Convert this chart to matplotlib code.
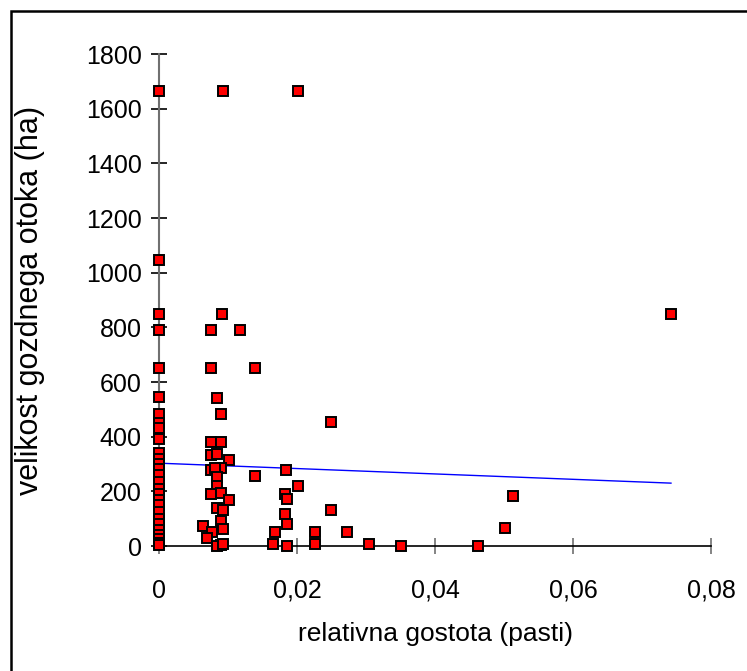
import matplotlib
matplotlib.use("Agg")
import matplotlib.pyplot as plt
from matplotlib.patches import Rectangle
from matplotlib.ticker import FuncFormatter

plt.rcParams['font.family'] = ['Liberation Sans', 'DejaVu Sans']

# relativna gostota (pasti) vs. velikost gozdnega otoka (ha)
gostota_0 = [0.0] * 28
otok_0 = [1663, 1045, 849, 790, 650, 545, 483, 450, 430, 390, 340, 320, 300,
          280, 260, 235, 210, 190, 170, 150, 125, 100, 80, 60, 40, 25, 10, 3]

gostota = [0.00923, 0.0202, 0.00918, 0.0075, 0.01179, 0.0075, 0.01387,
           0.00836, 0.00894, 0.0249, 0.0075, 0.00894, 0.0075, 0.00845,
           0.0101, 0.0075, 0.00894, 0.0081, 0.0184, 0.01387, 0.00836,
           0.0202, 0.00836, 0.0075, 0.00894, 0.0182, 0.0185, 0.0101,
           0.00836, 0.00923, 0.0249, 0.0182, 0.00894, 0.0185, 0.00633,
           0.00923, 0.00768, 0.01677, 0.02256, 0.0069, 0.00894, 0.00836,
           0.00932, 0.01648, 0.0185, 0.02256, 0.0272, 0.0304, 0.035,
           0.0463, 0.0501, 0.0513, 0.0742]
otok = [1663, 1663, 848, 789, 789, 650, 650, 540, 482, 453, 379, 379, 332,
        337, 314, 278, 284, 284, 278, 256, 254, 220, 221, 190, 195, 190,
        173, 168, 139, 132, 132, 118, 93, 80, 73, 61, 52, 50, 50, 29, 4, 0,
        6, 6, 0, 6, 51, 7, 0, 0, 66, 183, 848]

# linearni trend
trend_x = [0.0, 0.0742]
trend_y = [303, 230]

x_ticks = [0, 0.02, 0.04, 0.06, 0.08]
y_ticks = [0, 200, 400, 600, 800, 1000, 1200, 1400, 1600, 1800]

W, H = 747, 671
fig = plt.figure(figsize=(W / 100, H / 100), dpi=100)
fig.patches.append(Rectangle((11 / W, -0.1), 1.2, 1 - 11 / H + 0.1,
                             transform=fig.transFigure, fill=False,
                             edgecolor='black', linewidth=1.8))

ax = fig.add_axes([159 / W, 1 - 546 / H, (711 - 159) / W, (546 - 54) / H])

ax.plot(trend_x, trend_y, color='#0000ff', linewidth=1.0, zorder=2)
ax.plot(gostota_0 + gostota, otok_0 + otok, linestyle='none', marker='s',
        markersize=7.6, markerfacecolor='#ff0000', markeredgecolor='black',
        markeredgewidth=1.4, clip_on=False, zorder=3)

ax.set_xlim(0, 0.08)
ax.set_ylim(0, 1800)
ax.set_xticks(x_ticks)
ax.set_yticks(y_ticks)
ax.xaxis.set_major_formatter(FuncFormatter(
    lambda v, p: '0' if v == 0 else ('%.2f' % v).replace('.', ',')))

for s in ['top', 'right']:
    ax.spines[s].set_visible(False)
ax.spines['left'].set_color('#707070')
ax.spines['left'].set_linewidth(1.5)
ax.spines['bottom'].set_color('black')
ax.spines['bottom'].set_linewidth(1.2)

ax.tick_params(axis='y', direction='inout', length=11, width=1.2,
               color='black', labelsize=18, pad=7)
ax.tick_params(axis='x', direction='inout', length=11, width=1.2,
               color='#707070', labelsize=18, pad=18)

ax.set_ylabel('velikost gozdnega otoka (ha)', fontsize=22,
              ha='center', va='center')
ax.yaxis.set_label_coords((30 - 159) / 552, 0.5)
ax.set_xlabel('relativna gostota (pasti)', fontsize=19,
              ha='center', va='center')
ax.xaxis.set_label_coords((435 - 159) / 552, (546 - 634) / 492)

fig.savefig('out.png', dpi=100)
